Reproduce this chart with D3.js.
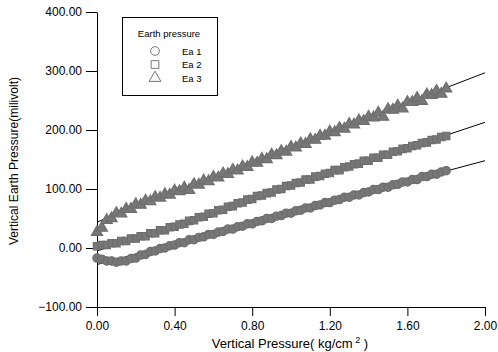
<!DOCTYPE html>
<html>
<head>
<meta charset="utf-8">
<script src="https://cdn.jsdelivr.net/npm/d3@7"></script>
<style>
  body { margin: 0; background: #fff; }
  text { font-family: "Liberation Sans", Arial, sans-serif; }
</style>
</head>
<body>
<div id="chart"></div>
<script>
// Data
const pressure = [0.000,0.025,0.050,0.075,0.100,0.125,0.150,0.175,0.200,0.225,0.250,0.275,0.300,0.325,0.350,0.375,
  0.400,0.425,0.450,0.475,0.500,0.525,0.550,0.575,0.600,0.625,0.650,0.675,0.700,0.725,0.750,0.775,
  0.800,0.825,0.850,0.875,0.900,0.925,0.950,0.975,1.000,1.025,1.050,1.075,1.100,1.125,1.150,1.175,
  1.200,1.225,1.250,1.275,1.300,1.325,1.350,1.375,1.400,1.425,1.450,1.475,1.500,1.525,1.550,1.575,
  1.600,1.625,1.650,1.675,1.700,1.725,1.750,1.775,1.800];

const ea1 = [-17,-19,-22,-22,-24,-22,-22,-18,-17,-12,-11,-6,-5,-1,0,4,
  5,9,9,14,14,18,19,23,23,27,28,32,32,36,37,41,
  41,45,46,50,50,54,55,59,59,63,64,68,68,72,73,77,
  77,81,82,86,86,90,90,94,95,99,99,103,103,107,108,112,
  112,116,116,121,121,125,125,129,131];

const ea2 = [3,5,5,8,8,12,12,16,16,20,20,25,25,30,30,35,
  36,40,41,46,47,52,53,58,59,64,65,70,71,76,77,82,
  83,88,89,93,94,99,100,105,106,110,111,116,116,121,122,126,
  127,132,132,137,138,142,143,148,148,153,153,158,158,163,164,168,
  169,173,174,178,179,183,184,188,190];

const ea3 = [27,34,47,50,59,58,66,66,74,73,80,79,86,85,91,90,
  97,96,102,98,108,107,114,113,120,119,126,125,132,131,138,137,
  145,144,151,150,158,157,164,163,171,170,177,176,184,183,190,190,
  197,196,203,202,210,209,216,215,222,221,229,222,235,234,241,236,
  247,247,254,249,260,259,266,261,270];

// fitted lines: value at 0 and at 2.0
const fits = [
  { name: 'Ea 1', a: -28, b: 148 },
  { name: 'Ea 2', a: -5, b: 213 },
  { name: 'Ea 3', a: 44, b: 297 },
];

const xTicks = [0, 0.4, 0.8, 1.2, 1.6, 2.0];
const xMinor = [0.2, 0.6, 1.0, 1.4, 1.8];
const yTicks = [-100, 0, 100, 200, 300, 400];
const yMinor = [-50, 50, 150, 250, 350];

// Dimension
const dimensions = {
  width: 498,
  height: 352,
  left: 97,
  right: 485,
  top: 12,
  bottom: 307,
};

const svg = d3.select('#chart')
  .append('svg')
  .attr('width', dimensions.width)
  .attr('height', dimensions.height);

// Scales
const xScale = d3.scaleLinear().domain([0, 2]).range([dimensions.left, dimensions.right]);
const yScale = d3.scaleLinear().domain([-100, 400]).range([dimensions.bottom, dimensions.top]);

// Axis
const xAxisGroup = svg.append('g')
  .attr('transform', `translate(0, ${dimensions.bottom})`);
xAxisGroup.call(d3.axisBottom(xScale).tickValues(xMinor).tickSize(5).tickFormat(''));
xAxisGroup.call(d3.axisBottom(xScale).tickValues(xTicks).tickSize(9).tickSizeOuter(0).tickFormat(d3.format('.2f')));
xAxisGroup.selectAll('.tick text').attr('y', 14).attr('font-size', 12).attr('font-family', 'Liberation Sans');

const yAxisGroup = svg.append('g')
  .attr('transform', `translate(${dimensions.left}, 0)`);
yAxisGroup.call(d3.axisLeft(yScale).tickValues(yMinor).tickSize(6).tickFormat(''));
yAxisGroup.call(d3.axisLeft(yScale).tickValues(yTicks).tickSize(11).tickSizeOuter(0).tickFormat(d3.format('.2f')));
yAxisGroup.selectAll('.tick text').attr('x', -15).attr('font-size', 12).attr('font-family', 'Liberation Sans');
svg.selectAll('.domain').attr('stroke', '#000');
svg.selectAll('.tick line').attr('stroke', '#000');

// Axis titles
const xTitle = svg.append('text')
  .attr('x', 290)
  .attr('y', 348)
  .attr('text-anchor', 'middle')
  .attr('font-size', 13);
xTitle.append('tspan').text('Vertical Pressure( kg/cm');
xTitle.append('tspan').attr('font-size', 9).attr('dy', -5).text(' 2');
xTitle.append('tspan').attr('dy', 5).text(' )');

svg.append('text')
  .attr('transform', 'translate(18, 161) rotate(-90)')
  .attr('text-anchor', 'middle')
  .attr('font-size', 13)
  .attr('textLength', 168)
  .attr('lengthAdjust', 'spacingAndGlyphs')
  .text('Vertical Earth Pressure(milivolt)');

// Fit lines
svg.append('g')
  .selectAll('line')
  .data(fits)
  .join('line')
  .attr('x1', xScale(0))
  .attr('x2', xScale(2))
  .attr('y1', d => yScale(d.a))
  .attr('y2', d => yScale(d.b))
  .attr('stroke', '#000')
  .attr('stroke-width', 1);

// Markers
const seriesList = [
  { name: 'Ea 1', values: ea1, symbol: d3.symbolCircle, size: 54 },
  { name: 'Ea 2', values: ea2, symbol: d3.symbolSquare, size: 54 },
  { name: 'Ea 3', values: ea3, symbol: d3.symbolTriangle, size: 54 },
];

const markerColor = '#6e6e6e';

svg.append('g')
  .selectAll('g')
  .data(seriesList)
  .join('g')
  .each(function (s) {
    d3.select(this).selectAll('path')
      .data(s.values.map((v, i) => [pressure[i], v]))
      .join('path')
      .attr('transform', d => `translate(${xScale(d[0])}, ${yScale(d[1])})`)
      .attr('d', d3.symbol().type(s.symbol).size(s.size))
      .attr('fill', '#777')
      .attr('stroke', markerColor)
      .attr('stroke-width', 1.2);
  });

// Legend
const legend = svg.append('g');
legend.append('rect')
  .attr('x', 122.5).attr('y', 17.5)
  .attr('width', 95).attr('height', 78)
  .attr('fill', '#fff')
  .attr('stroke', '#000');
legend.append('text')
  .attr('x', 169).attr('y', 37)
  .attr('text-anchor', 'middle')
  .attr('font-size', 9.5)
  .text('Earth pressure');
const legendItems = legend.selectAll('g')
  .data(seriesList)
  .join('g')
  .attr('transform', (d, i) => `translate(155, ${51 + i * 13.5})`);
legendItems.append('path')
  .attr('d', d => d3.symbol().type(d.symbol).size(60)())
  .attr('fill', 'none')
  .attr('stroke', '#555')
  .attr('stroke-width', 0.8);
legendItems.append('text')
  .attr('x', 27).attr('y', 3.5)
  .attr('font-size', 9.5)
  .text(d => d.name);
</script>
</body>
</html>
